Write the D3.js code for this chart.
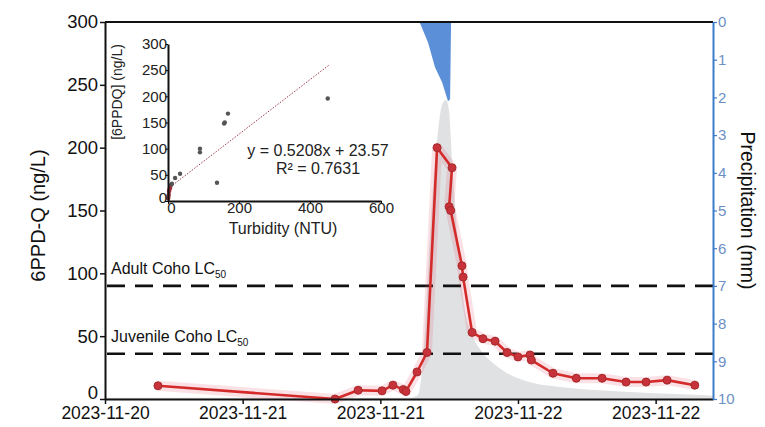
<!DOCTYPE html>
<html><head><meta charset="utf-8">
<script src="https://cdn.jsdelivr.net/npm/d3@7"></script>
<style>
html,body{margin:0;padding:0;background:#fff;}
svg{display:block;font-family:"Liberation Sans",Arial,sans-serif;}
</style></head>
<body><svg id="c" width="765" height="427"></svg>
<script>
// ---------- data ----------
const sampleTimes = ["2023-11-20 16:37","2023-11-21 08:03","2023-11-21 10:04","2023-11-21 12:09","2023-11-21 13:06","2023-11-21 14:00","2023-11-21 14:14","2023-11-21 15:12","2023-11-21 16:04","2023-11-21 16:57","2023-11-21 18:15","2023-11-21 18:00","2023-11-21 18:08","2023-11-21 19:07","2023-11-21 19:13","2023-11-21 20:00","2023-11-21 20:57","2023-11-21 22:00","2023-11-21 23:03","2023-11-22 00:00","2023-11-22 01:03","2023-11-22 01:10","2023-11-22 03:03","2023-11-22 05:05","2023-11-22 07:20","2023-11-22 09:25","2023-11-22 11:10","2023-11-22 13:00","2023-11-22 15:25"];
const ppdq = [10.5,0,7,6.5,11,7.5,6,21.5,37,200,184,153,150,106,97,53,48,46,37,33.5,35,31,20.5,16.5,16.5,13.5,13.5,15,11];

const turbTimes = ["2023-11-20 12:00","2023-11-21 14:36","2023-11-21 15:17","2023-11-21 15:38","2023-11-21 15:54","2023-11-21 16:10","2023-11-21 16:31","2023-11-21 16:57","2023-11-21 17:23","2023-11-21 17:44","2023-11-21 17:59","2023-11-21 18:15","2023-11-21 18:36","2023-11-21 18:57","2023-11-21 19:23","2023-11-21 20:00","2023-11-21 20:52","2023-11-21 22:00","2023-11-21 23:19","2023-11-22 01:03","2023-11-22 03:40","2023-11-22 07:10","2023-11-22 11:31","2023-11-22 15:52","2023-11-22 17:00"];
const turbidity = [2,2,6,43,103,192,296,385,437,444,429,355,266,192,131,95,70,51,36,25,18,13,9,6,5];

const precipTimes = ["2023-11-21 15:25","2023-11-21 16:10","2023-11-21 16:46","2023-11-21 17:23","2023-11-21 17:54","2023-11-21 18:05","2023-11-21 18:10"];
const precip = [0,0.55,1.2,1.6,2.1,2.05,0];

const insetTurb = [450,169,160,158,90,90,138,34,20,11,8,6,3,2,1,0.5,4];
const insetConc = [196,167,150,148,100,93,35,52,44,33,30,25,18,12,8,5,22];
const fit = {slope:0.5208, intercept:23.57};
const fitRange = [0,455];

const xTickTimes = ["2023-11-20 12:00","2023-11-21 00:00","2023-11-21 12:00","2023-11-22 00:00","2023-11-22 12:00"];
const xDomain = ["2023-11-20 12:00","2023-11-22 17:00"];
const yTicks = [0,50,100,150,200,250,300];
const precipTicks = [0,1,2,3,4,5,6,7,8,9,10];
const insetXTicks = [0,200,400,600];
const insetYTicks = [0,50,100,150,200,250,300];
const thresholds = [{name:"Adult Coho LC", sub:"50", value:90},{name:"Juvenile Coho LC", sub:"50", value:36}];

// ---------- scales ----------
const parse = d3.timeParse("%Y-%m-%d %H:%M");
const L = 105, R = 713, T = 22, B = 399;
const svg = d3.select("#c");
const x = d3.scaleTime().domain(xDomain.map(parse)).range([L, R]);
const y = d3.scaleLinear().domain([0,300]).range([B, T]);
const yP = d3.scaleLinear().domain([0,10]).range([T, B]);
const yT = d3.scaleLinear().domain([0,560]).range([B, T]);

// turbidity (grey area)
const tData = turbTimes.map((t,i)=>({t:parse(t), v:turbidity[i]}));
svg.append("path").datum(tData)
  .attr("d", d3.area().x(d=>x(d.t)).y0(B).y1(d=>yT(d.v)).curve(d3.curveMonotoneX))
  .attr("fill","#dadcde").attr("opacity",0.85);

// precipitation (blue, hanging from top)
const pData = precipTimes.map((t,i)=>({t:parse(t), v:precip[i]}));
svg.append("path").datum(pData)
  .attr("d", d3.area().x(d=>x(d.t)).y0(T).y1(d=>yP(d.v)))
  .attr("fill","#5b8fd8");

// threshold lines
thresholds.forEach(th=>{
  svg.append("line").attr("x1",L+2).attr("x2",R).attr("y1",y(th.value)).attr("y2",y(th.value))
    .attr("stroke","#111").attr("stroke-width",2.6).attr("stroke-dasharray","18,10");
  const tx = svg.append("text").attr("x",111).attr("y",y(th.value)-12).attr("font-size",16).attr("fill","#111");
  tx.append("tspan").text(th.name);
  tx.append("tspan").text(th.sub).attr("font-size",10).attr("dy",4);
});

// 6PPD-Q line
const sData = sampleTimes.map((t,i)=>({t:parse(t), v:ppdq[i]}));
const line = d3.line().x(d=>x(d.t)).y(d=>y(d.v));
svg.append("path").datum(sData).attr("d",line).attr("fill","none")
  .attr("stroke","rgba(220,90,110,0.18)").attr("stroke-width",10).attr("stroke-linejoin","round");
svg.append("path").datum(sData).attr("d",line).attr("fill","none")
  .attr("stroke","#d42a2a").attr("stroke-width",2.6).attr("stroke-linejoin","round");
svg.append("g").selectAll("circle").data(sData).join("circle")
  .attr("cx",d=>x(d.t)).attr("cy",d=>y(d.v)).attr("r",4)
  .attr("fill","#c8323a").attr("stroke","#a52a2a").attr("stroke-width",1);

// frame top
svg.append("line").attr("x1",L).attr("x2",R).attr("y1",T).attr("y2",T).attr("stroke","#111").attr("stroke-width",2);

// axes
const xAxis = svg.append("g").attr("transform",`translate(0,${B})`)
  .call(d3.axisBottom(x).tickValues(xTickTimes.map(parse)).tickFormat(d3.timeFormat("%Y-%m-%d")).tickSize(5).tickSizeOuter(0));
xAxis.select(".domain").attr("stroke","#111").attr("stroke-width",2);
xAxis.selectAll("line").attr("stroke","#111").attr("stroke-width",1.5);
xAxis.selectAll("text").attr("font-size",17.5).attr("fill","#111").attr("y",8);

const yAxis = svg.append("g").attr("transform",`translate(${L},0)`)
  .call(d3.axisLeft(y).tickValues(yTicks).tickSize(5).tickSizeOuter(0));
yAxis.select(".domain").attr("stroke","#111").attr("stroke-width",2);
yAxis.selectAll("line").attr("stroke","#111").attr("stroke-width",1.5);
yAxis.selectAll("text").attr("font-size",18.5).attr("fill","#111").attr("x",-7)
  .attr("dy",d=>d===0?"-0.05em":"0.32em");

const pAxis = svg.append("g").attr("transform",`translate(${R},0)`)
  .call(d3.axisRight(yP).tickValues(precipTicks).tickSize(4).tickSizeOuter(0));
pAxis.select(".domain").attr("stroke","#3d7cc9").attr("stroke-width",2);
pAxis.selectAll("line").attr("stroke","#3d7cc9").attr("stroke-width",1.2);
pAxis.selectAll("text").attr("font-size",15).attr("fill","#6d8fc4").attr("x",5);

svg.append("text").attr("transform",`translate(45,${(T+B)/2+5}) rotate(-90)`).attr("text-anchor","middle")
  .attr("font-size",20).attr("fill","#111").text("6PPD-Q (ng/L)");
svg.append("text").attr("transform",`translate(741,${(T+B)/2}) rotate(90)`).attr("text-anchor","middle")
  .attr("font-size",19.5).attr("fill","#111").text("Precipitation (mm)");

// ---------- inset ----------
const ix = d3.scaleLinear().domain([0,600]).range([168,381]);
const iy = d3.scaleLinear().domain([0,300]).range([201,44]);
svg.append("line")
  .attr("x1",ix(fitRange[0])).attr("x2",ix(fitRange[1]))
  .attr("y1",iy(fit.slope*fitRange[0]+fit.intercept)).attr("y2",iy(fit.slope*fitRange[1]+fit.intercept))
  .attr("stroke","#9a3a4a").attr("stroke-width",1).attr("stroke-dasharray","1.5,1.5");
svg.append("g").selectAll("circle").data(insetTurb).join("circle")
  .attr("cx",(d)=>ix(d)).attr("cy",(d,i)=>iy(insetConc[i])).attr("r",2.2)
  .attr("fill",(d,i)=>insetConc[i]<26?"#a0303a":"#555");
const ixAxis = svg.append("g").attr("transform","translate(0,201)")
  .call(d3.axisBottom(ix).tickValues(insetXTicks).tickSize(3).tickSizeOuter(0));
ixAxis.select(".domain").attr("stroke","#111").attr("stroke-width",2);
ixAxis.selectAll("text").attr("font-size",15).attr("fill","#222").attr("y",1)
  .attr("dx",d=>d===0?"3":"0");
const iyAxis = svg.append("g").attr("transform","translate(168,0)")
  .call(d3.axisLeft(iy).tickValues(insetYTicks).tickSize(3).tickSizeOuter(0));
iyAxis.select(".domain").attr("stroke","#111").attr("stroke-width",2);
iyAxis.selectAll("text").attr("font-size",15).attr("fill","#222").attr("x",-1)
  .attr("dy",d=>d===0?"0.1em":"0.32em");
svg.append("text").attr("x",283).attr("y",234).attr("text-anchor","middle").attr("font-size",16).attr("fill","#222").text("Turbidity (NTU)");
svg.append("text").attr("transform","translate(122,92) rotate(-90)").attr("text-anchor","middle").attr("font-size",14).attr("fill","#222").text("[6PPDQ] (ng/L)");
svg.append("text").attr("x",318).attr("y",156).attr("text-anchor","middle").attr("font-size",16).attr("fill","#222").text("y = 0.5208x + 23.57");
svg.append("text").attr("x",318).attr("y",174).attr("text-anchor","middle").attr("font-size",16).attr("fill","#222").text("R² = 0.7631");
</script></body></html>
